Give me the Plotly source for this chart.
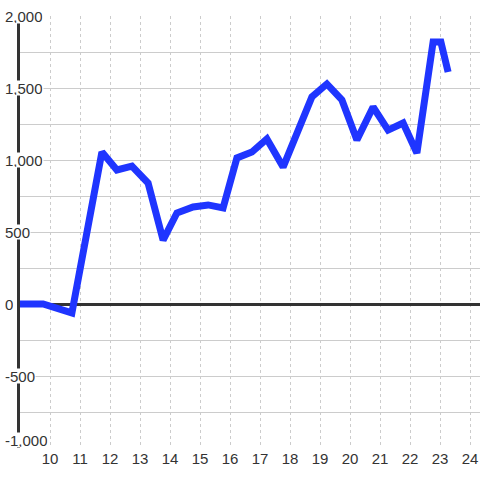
import plotly.graph_objects as go

x_vals = [9.0, 9.77, 10.73, 11.73, 12.23, 12.73, 13.27, 13.77, 14.23, 14.77, 15.27,
          15.77, 16.23, 16.73, 17.23, 17.77, 18.73, 19.23, 19.73, 20.23, 20.77,
          21.27, 21.77, 22.23, 22.77, 23.03, 23.27]
y_vals = [0, 0, -62, 1055, 931, 958, 840, 444, 632, 674, 688,
          667, 1014, 1055, 1146, 951, 1438, 1528, 1417, 1139, 1368,
          1208, 1257, 1049, 1819, 1819, 1611]

x_ticks = list(range(10, 25))
y_label_vals = [2000, 1500, 1000, 500, 0, -500, -1000]
y_label_text = ["2,000", "1,500", "1,000", "500", "0", "-500", "-1,000"]

FONT = "Liberation Sans, Arial, sans-serif"

fig = go.Figure()
fig.add_trace(go.Scatter(
    x=x_vals, y=y_vals, mode="lines",
    line=dict(color="#1f35ff", width=7),
    hoverinfo="skip",
))

W = 460.0
for v, t in zip(y_label_vals, y_label_text):
    fig.add_annotation(
        x=(4 - 20) / W, xref="paper", xanchor="left",
        y=v, yref="y", yanchor="bottom" if v == -1000 else "middle",
        text=t, showarrow=False,
        font=dict(family=FONT, size=15, color="#333"),
        bgcolor="white", borderpad=0, height=14,
    )

fig.update_layout(
    width=480, height=480,
    margin=dict(l=20, r=0, t=16, b=32),
    paper_bgcolor="white", plot_bgcolor="white",
    showlegend=False,
    font=dict(family=FONT, size=15, color="#333"),
)
fig.update_xaxes(
    range=[9, 24 + 1 / 3],
    tickmode="array", tickvals=x_ticks, ticktext=[str(t) for t in x_ticks],
    showgrid=True, gridcolor="#cccccc", gridwidth=1, griddash="3px,3px",
    zeroline=False, showline=False, ticks="",
    tickfont=dict(family=FONT, size=15, color="#333"),
)
fig.update_yaxes(
    range=[-1000, 2000], dtick=250, tick0=0,
    showticklabels=False, ticks="",
    showgrid=True, gridcolor="#cccccc", gridwidth=1,
    zeroline=True, zerolinecolor="#333333", zerolinewidth=3,
    showline=True, linecolor="#333333", linewidth=3,
)

fig.write_html("out.html", config={"displayModeBar": False},
               post_script="document.body.style.margin='0';")
